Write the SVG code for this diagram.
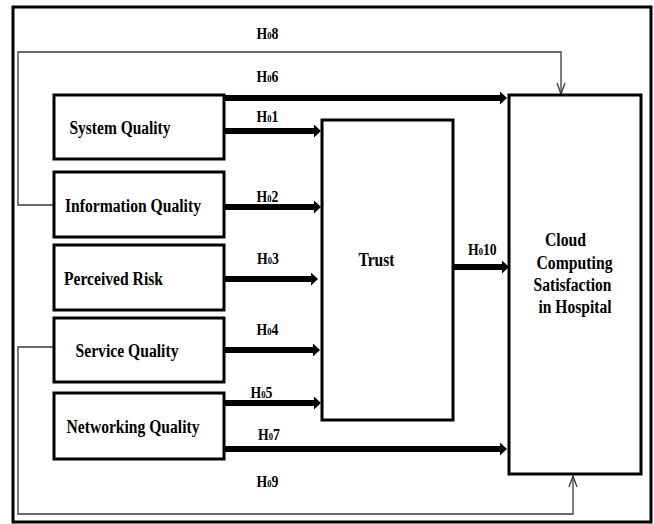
<svg xmlns="http://www.w3.org/2000/svg" width="654" height="524" viewBox="0 0 654 524">
<style>
.box{fill:#fff;stroke:#000;stroke-width:3}
.t{font-family:"Liberation Serif","Times New Roman",serif;font-weight:bold;font-size:18px;fill:#000}
.h{font-family:"Liberation Serif","Times New Roman",serif;font-weight:bold;font-size:16px;fill:#000}
.s{font-size:10px}
.thick{stroke:#000;stroke-width:6;fill:none}
.thin{stroke:#3a3a3a;stroke-width:1.3;fill:none}
</style>
<defs>
<marker id="ah" markerUnits="userSpaceOnUse" markerWidth="8" markerHeight="14" refX="0" refY="6.5" orient="auto">
<path d="M0,0 L7,6.5 L0,13 z" fill="#000"/>
</marker>
</defs>
<rect x="0" y="0" width="654" height="524" fill="#fff"/>
<rect id="frame" x="13" y="7" width="638" height="515" fill="none" stroke="#000" stroke-width="3"/>

<g id="connectors">
<line class="thick" x1="225" y1="98" x2="500" y2="98" marker-end="url(#ah)"/>
<line class="thick" x1="225" y1="131" x2="314" y2="131" marker-end="url(#ah)"/>
<line class="thick" x1="225" y1="207" x2="314" y2="207" marker-end="url(#ah)"/>
<line class="thick" x1="225" y1="279" x2="311" y2="279" marker-end="url(#ah)"/>
<line class="thick" x1="225" y1="350" x2="313" y2="350" marker-end="url(#ah)"/>
<line class="thick" x1="225" y1="403" x2="314" y2="403" marker-end="url(#ah)"/>
<line class="thick" x1="225" y1="449" x2="500" y2="449" marker-end="url(#ah)"/>
<line class="thick" x1="454" y1="267" x2="502" y2="267" marker-end="url(#ah)"/>
<path class="thin" d="M54,205 H18 V52 H561 V94"/>
<path class="thin" d="M557,83 L561,94 L565,83"/>
<path class="thin" d="M54,347 H18 V514 H573 V476"/>
<path class="thin" d="M569,487 L573,476 L577,487"/>
</g>

<g id="labels">
<text class="h" transform="translate(256.5,38.5) scale(0.86,1)">H<tspan class="s">0</tspan>8</text>
<text class="h" transform="translate(256.5,81.5) scale(0.86,1)">H<tspan class="s">0</tspan>6</text>
<text class="h" transform="translate(256.5,121.5) scale(0.86,1)">H<tspan class="s">0</tspan>1</text>
<text class="h" transform="translate(256.5,201.5) scale(0.86,1)">H<tspan class="s">0</tspan>2</text>
<text class="h" transform="translate(257,263.5) scale(0.86,1)">H<tspan class="s">0</tspan>3</text>
<text class="h" transform="translate(256.5,335) scale(0.86,1)">H<tspan class="s">0</tspan>4</text>
<text class="h" transform="translate(250.5,397.5) scale(0.86,1)">H<tspan class="s">0</tspan>5</text>
<text class="h" transform="translate(258,439.5) scale(0.86,1)">H<tspan class="s">0</tspan>7</text>
<text class="h" transform="translate(256.5,486.5) scale(0.86,1)">H<tspan class="s">0</tspan>9</text>
<text class="h" transform="translate(468,255) scale(0.86,1)">H<tspan class="s">0</tspan>10</text>
</g>

<g id="system-quality">
<rect class="box" x="54" y="95" width="170" height="64"/>
<text class="t" x="69.5" y="134" textLength="101" lengthAdjust="spacingAndGlyphs">System Quality</text>
</g>
<g id="information-quality">
<rect class="box" x="54" y="172" width="170" height="65"/>
<text class="t" x="65" y="211.5" textLength="136" lengthAdjust="spacingAndGlyphs">Information Quality</text>
</g>
<g id="perceived-risk">
<rect class="box" x="54" y="245" width="170" height="65"/>
<text class="t" x="64" y="285" textLength="99" lengthAdjust="spacingAndGlyphs">Perceived Risk</text>
</g>
<g id="service-quality">
<rect class="box" x="54" y="318" width="170" height="64"/>
<text class="t" x="75.5" y="356.5" textLength="103" lengthAdjust="spacingAndGlyphs">Service Quality</text>
</g>
<g id="networking-quality">
<rect class="box" x="54" y="393" width="170" height="66"/>
<text class="t" x="66.5" y="433" textLength="133" lengthAdjust="spacingAndGlyphs">Networking Quality</text>
</g>
<g id="trust">
<rect class="box" x="322" y="120" width="131" height="300"/>
<text class="t" x="358.5" y="266" textLength="36" lengthAdjust="spacingAndGlyphs">Trust</text>
</g>
<g id="cloud-satisfaction">
<rect class="box" x="509" y="95" width="132" height="379"/>
<text class="t" x="545" y="245.5" textLength="41" lengthAdjust="spacingAndGlyphs">Cloud</text>
<text class="t" x="536.5" y="268.5" textLength="76" lengthAdjust="spacingAndGlyphs">Computing</text>
<text class="t" x="533.5" y="290.5" textLength="78" lengthAdjust="spacingAndGlyphs">Satisfaction</text>
<text class="t" x="538.5" y="313" textLength="73" lengthAdjust="spacingAndGlyphs">in Hospital</text>
</g>
</svg>
